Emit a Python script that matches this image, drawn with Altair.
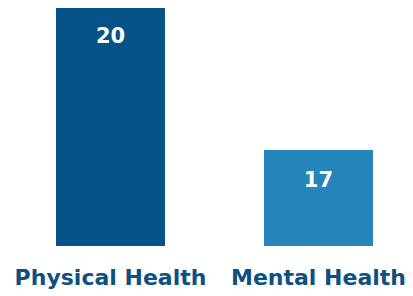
import altair as alt
import pandas as pd

categories = ["Physical Health", "Mental Health"]
values = [20, 17]
colors = ["#045287", "#2584B9"]
baseline_value = 15

df = pd.DataFrame({"category": categories, "value": values, "color": colors})

x = alt.X("category:N", sort=categories,
          scale=alt.Scale(paddingInner=0.476, paddingOuter=0.077, align=0),
          axis=alt.Axis(title=None, labelAngle=0, labelFontSize=22, labelFont="DejaVu Sans",
                        labelFontWeight="bold", labelColor="#0E5082", domain=False,
                        ticks=False, labelPadding=21, labelLimit=0, labelOverlap=False))
y = alt.Y("value:Q", scale=alt.Scale(domain=[15, 20], range=[238, -2], nice=False, zero=False),
          axis=None)

bars = alt.Chart(df).mark_bar(clip=False).encode(
    x=x, y=y, y2=alt.datum(baseline_value), color=alt.Color("color:N", scale=None)
)
labels = alt.Chart(df).mark_text(
    baseline="alphabetic", dy=37, fontSize=21, font="DejaVu Sans", fontWeight="bold", color="white"
).encode(x=x, y=y, text="value:Q")

chart = (bars + labels).properties(
    width=349, height=238,
    autosize=alt.AutoSizeParams(type="none"),
    padding={"left": 48, "top": 0, "right": 0, "bottom": 50},
).configure_view(stroke=None)

chart.save("out.html", embed_options={"renderer": "svg", "actions": False})
